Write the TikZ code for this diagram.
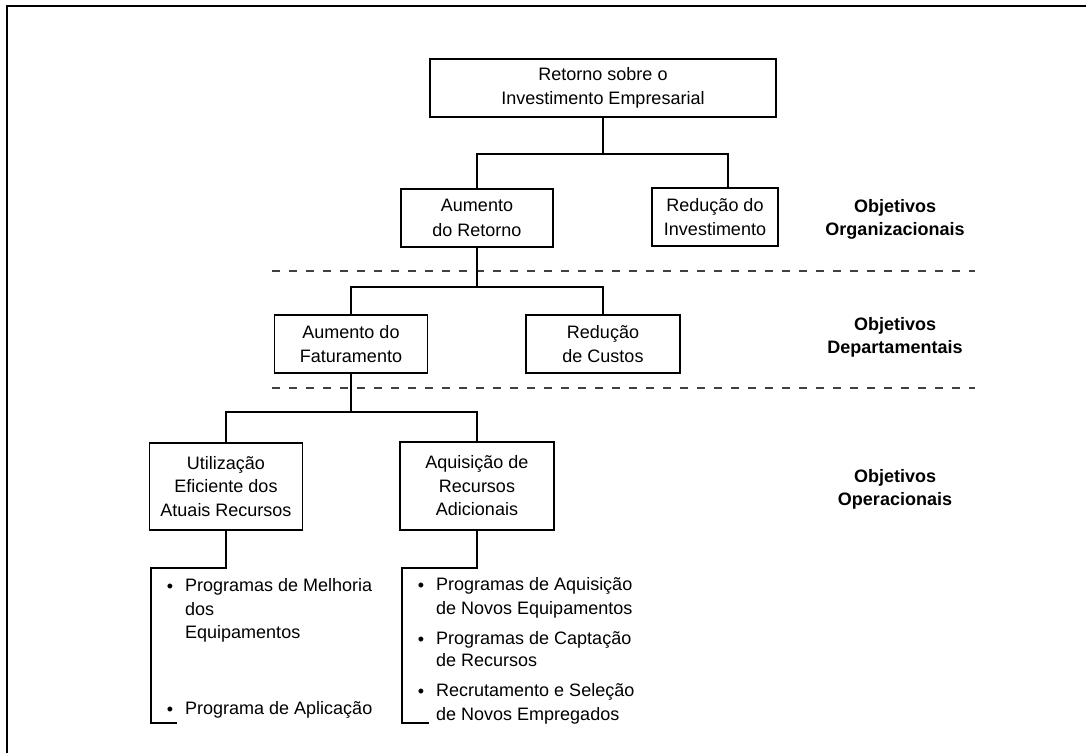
\documentclass[tikz,border=0pt]{standalone}
\usepackage{fontspec}
\setmainfont{Liberation Sans}
\begin{document}
\begin{tikzpicture}[x=1pt,y=-1pt,
  box/.style={draw,line width=1.7pt,align=center,inner sep=0pt,
    minimum height=58pt,font=\fontsize{18}{24.5}\selectfont},
  wire/.style={line width=1.4pt},
  sep/.style={line width=1.7pt,dash pattern=on 8pt off 9pt,black!75},
  item/.style={anchor=mid west,inner sep=0pt,font=\fontsize{18}{22}\selectfont},
  dot/.style={inner sep=0pt,font=\fontsize{18}{22}\selectfont},
  level/.style={align=center,inner sep=0pt,font=\bfseries\fontsize{18}{23}\selectfont}]
\useasboundingbox (0,0) rectangle (1086,753);

% outer frame (top and left edges)
\draw[line width=2.8pt] (1086,6) -- (7,6) -- (7,753);

% boxes
\node[box,minimum width=346pt] (top) at (603,88) {Retorno sobre o\\Investimento Empresarial};
\node[box,minimum width=152pt] (ar) at (477,218) {Aumento\\do Retorno};
\node[box,minimum width=126pt] (ri) at (715,217) {Redução do\\Investimento};
\node[box,minimum width=153pt] (af) at (351,344) {Aumento do\\Faturamento};
\node[box,minimum width=154pt] (rc) at (603,344) {Redução\\de Custos};
\node[box,minimum width=153pt,minimum height=87pt,font=\fontsize{18}{23.5}\selectfont] (ut) at (226,486.5) {Utilização\\Eficiente dos\\Atuais Recursos};
\node[box,minimum width=154pt,minimum height=88pt,font=\fontsize{18}{23.5}\selectfont] (aq) at (477,486) {Aquisição de\\Recursos\\Adicionais};

% level separators
\coordinate (s1a) at (272,271); \coordinate (s1b) at (975,271);
\coordinate (s2a) at (272,388); \coordinate (s2b) at (975,388);
\draw[sep] (s1a) -- (s1b);
\draw[sep] (s2a) -- (s2b);

% level labels
\node[level] (lorg) at (895,219) {Objetivos\\Organizacionais};
\node[level] (ldep) at (895,337) {Objetivos\\Departamentais};
\node[level] (lop) at (895,489) {Objetivos\\Operacionais};

% tree connectors
\coordinate (j1) at (603,154);
\draw[wire] (top.south) -- (j1) (ar.north) |- (j1) -| ([xshift=13pt]ri.north);
\coordinate (j2) at (477,287);
\draw[wire] (ar.south) -- (j2) (af.north) |- (j2) -| (rc.north);
\coordinate (j3) at (351,412);
\draw[wire] (af.south) -- (j3) (ut.north) |- (j3) -| (aq.north);

% brackets leading to the programme lists
\coordinate (b1) at (151,568); \coordinate (b1e) at (177,723);
\coordinate (b2) at (402,568); \coordinate (b2e) at (429,723);
\draw[wire] (ut.south) |- (b1) |- (b1e);
\draw[wire] (aq.south) |- (b2) |- (b2e);

% left list
\node[dot] (d1) at (170,588) {•};
\node[item] (l1) at (185,589) {Programas de Melhoria};
\node[item] (l2) at (185,613) {dos};
\node[item] (l3) at (185,636) {Equipamentos};
\node[dot] (d2) at (170,711) {•};
\node[item] (l4) at (185,712) {Programa de Aplicação};

% right list
\node[dot] (d3) at (421,587) {•};
\node[item] (r1) at (436,588) {Programas de Aquisição};
\node[item] (r2) at (436,612) {de Novos Equipamentos};
\node[dot] (d4) at (421,641) {•};
\node[item] (r3) at (436,642) {Programas de Captação};
\node[item] (r4) at (436,664) {de Recursos};
\node[dot] (d5) at (421,693) {•};
\node[item] (r5) at (436,694) {Recrutamento e Seleção};
\node[item] (r6) at (436,718) {de Novos Empregados};
\end{tikzpicture}
\end{document}
